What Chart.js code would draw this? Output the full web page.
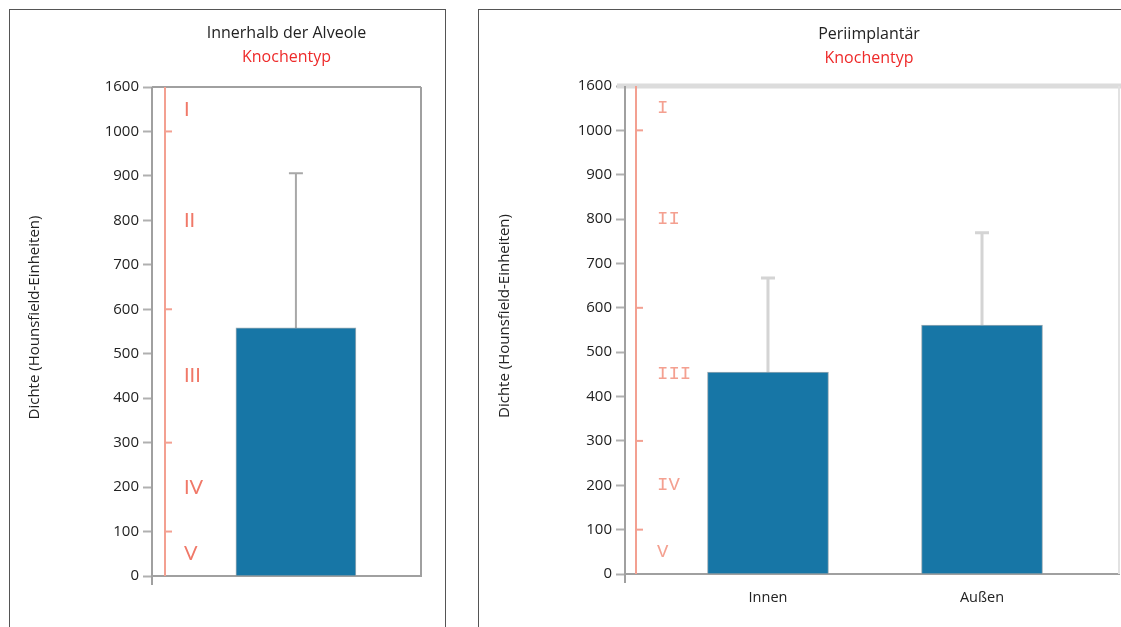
<!DOCTYPE html>
<html lang="de">
<head>
<meta charset="utf-8">
<title>Dichte nach Knochentyp</title>
<script src="https://cdn.jsdelivr.net/npm/chart.js@4"></script>
<style>
  html, body { margin: 0; padding: 0; background: #fff; overflow: hidden; }
  body { width: 1121px; height: 627px; position: relative; }
  .panel { position: absolute; border: 1px solid #555; box-sizing: border-box; background: #fff; }
  #panelA { left: 9px; top: 9px; width: 437px; height: 660px; }
  #panelB { left: 478px; top: 9px; width: 700px; height: 660px; }
  canvas { position: absolute; }
  #chartA { left: 10px; top: 10px; }
  #chartB { left: 479px; top: 10px; }
</style>
</head>
<body>
<div class="panel" id="panelA"></div>
<div class="panel" id="panelB"></div>
<canvas id="chartA" width="435" height="617"></canvas>
<canvas id="chartB" width="642" height="617"></canvas>
<script>
// Density axis: evenly spaced ticks, the last step jumps from 1000 to 1600
const yTickLabels = ['0', '100', '200', '300', '400', '500', '600', '700', '800', '900', '1000', '1600'];

// Bone type bands (Knochentyp) and their boundaries in HU
const boneTypes = ['I', 'II', 'III', 'IV', 'V'];
const boneBounds = [1600, 1000, 600, 300, 100, 0];

// Inside the alveole: mean density and upper end of the error bar
const alveoleCategories = [''];
const alveoleMean = [558];
const alveoleUpper = [906];

// Peri-implant: inner and outer region
const periCategories = ['Innen', 'Außen'];
const periMean = [455, 561];
const periUpper = [667, 769];

const FONT = '"Open Sans", "Noto Sans", sans-serif';
const tickValues = yTickLabels.map(Number);

// HU value -> position on the evenly spaced tick axis
function huToPos(v) {
  for (let i = 0; i < tickValues.length - 1; i++) {
    const a = tickValues[i], b = tickValues[i + 1];
    if (v <= b) return i + (v - a) / (b - a);
  }
  return tickValues.length - 1;
}

// Frame lines, bone-type ruler, error bars and headings
const decorPlugin = {
  id: 'decor',
  beforeDatasetsDraw(chart, args, o) {
    const { ctx, chartArea: ca } = chart;
    const y = chart.scales.y;
    ctx.save();
    // top line at 1600
    ctx.strokeStyle = o.topColor;
    ctx.lineWidth = o.topWidth;
    ctx.beginPath();
    ctx.moveTo(ca.left - o.tickLen, ca.top);
    ctx.lineTo(o.topToEdge ? chart.width : ca.right, ca.top);
    ctx.stroke();
    // right frame line
    ctx.strokeStyle = o.rightColor;
    ctx.lineWidth = 2;
    ctx.beginPath();
    ctx.moveTo(ca.right, ca.top);
    ctx.lineTo(ca.right, ca.bottom);
    ctx.stroke();
    // y axis line extends a little below zero
    ctx.strokeStyle = '#a0a0a0';
    ctx.lineWidth = 2;
    ctx.beginPath();
    ctx.moveTo(ca.left, ca.top);
    ctx.lineTo(ca.left, ca.bottom + 9);
    ctx.stroke();

    // bone-type ruler
    const rx = ca.left + o.rulerOffset;
    ctx.strokeStyle = '#f3a091';
    ctx.lineWidth = 2;
    ctx.beginPath();
    ctx.moveTo(rx, ca.top);
    ctx.lineTo(rx, ca.bottom);
    ctx.stroke();
    boneBounds.slice(1, -1).forEach(b => {
      const py = y.getPixelForValue(huToPos(b));
      ctx.beginPath();
      ctx.moveTo(rx, py);
      ctx.lineTo(rx + 7, py);
      ctx.stroke();
    });
    ctx.fillStyle = o.numeralColor;
    ctx.font = o.numeralFont;
    ctx.textAlign = 'left';
    ctx.textBaseline = 'middle';
    boneTypes.forEach((t, i) => {
      const mid = (huToPos(boneBounds[i]) + huToPos(boneBounds[i + 1])) / 2;
      ctx.fillText(t, ca.left + 32, y.getPixelForValue(mid) + o.numeralShift);
    });

    // headings
    const cx = (ca.left + ca.right) / 2 + o.titleShift;
    ctx.textAlign = 'center';
    ctx.font = '16px ' + FONT;
    ctx.fillStyle = '#222';
    ctx.fillText(o.title, cx, ca.top + o.titleY);
    ctx.fillStyle = '#ee2a2a';
    ctx.fillText('Knochentyp', cx, ca.top + o.titleY + 24);

    // vertical axis title
    ctx.save();
    ctx.translate(o.yTitleX, (ca.top + ca.bottom) / 2 - 14);
    ctx.rotate(-Math.PI / 2);
    ctx.fillStyle = '#222';
    ctx.font = '15px ' + FONT;
    ctx.fillText('Dichte (Hounsfield-Einheiten)', 0, 0);
    ctx.restore();

    // error bars (drawn before the bars, rising from their tops)
    const meta = chart.getDatasetMeta(0);
    const upper = o.upper;
    ctx.strokeStyle = o.errColor;
    ctx.lineWidth = o.errWidth;
    meta.data.forEach((bar, i) => {
      const top = y.getPixelForValue(huToPos(upper[i]));
      ctx.beginPath();
      ctx.moveTo(bar.x, bar.y);
      ctx.lineTo(bar.x, top);
      ctx.moveTo(bar.x - o.capHalf, top);
      ctx.lineTo(bar.x + o.capHalf, top);
      ctx.stroke();
    });
    ctx.restore();
  }
};

function makeChart(id, cfg) {
  const points = cfg.mean.map((m, i) => ({ x: i, y: huToPos(m) }));
  return new Chart(document.getElementById(id), {
    type: 'bar',
    data: {
      datasets: [{
        data: points,
        backgroundColor: '#1776a6',
        borderColor: 'rgba(110,135,150,0.7)',
        borderWidth: 1,
        barThickness: cfg.barWidth
      }]
    },
    options: {
      responsive: false,
      animation: false,
      layout: { padding: cfg.padding },
      plugins: {
        legend: { display: false },
        tooltip: { enabled: false },
        decor: cfg.decor
      },
      scales: {
        x: {
          type: 'linear',
          offset: false,
          min: cfg.xMin,
          max: cfg.xMax,
          afterBuildTicks: s => { s.ticks = cfg.categories.map((c, i) => ({ value: i })); },
          afterFit: s => { s.height = 44; },
          grid: { display: false, offset: false },
          border: { display: true, color: '#a0a0a0', width: 2 },
          ticks: {
            display: cfg.showX,
            padding: 7,
            color: '#222',
            font: { family: FONT, size: 14.5 },
            callback: v => cfg.categories[v]
          }
        },
        y: {
          min: 0,
          max: yTickLabels.length - 1,
          afterFit: s => { s.width = cfg.yWidth; },
          afterBuildTicks: s => { s.ticks = yTickLabels.map((t, i) => ({ value: i })); },
          border: { display: false },
          grid: {
            drawOnChartArea: false,
            tickLength: 9,
            tickColor: '#b0b0b0',
            tickWidth: 2
          },
          ticks: {
            padding: 4,
            color: '#222',
            font: { family: FONT, size: 15 },
            callback: v => yTickLabels[v]
          }
        }
      }
    },
    plugins: [decorPlugin]
  });
}

makeChart('chartA', {
  mean: alveoleMean,
  categories: alveoleCategories,
  showX: false,
  barWidth: 120,
  xMin: -0.535,
  xMax: 0.465,
  yWidth: 142,
  padding: { top: 77, right: 24, bottom: 7, left: 0 },
  decor: {
    title: 'Innerhalb der Alveole',
    titleY: -54, titleShift: 0, yTitleX: 25,
    upper: alveoleUpper,
    topColor: '#a0a0a0', topWidth: 2, topToEdge: false,
    rightColor: '#a0a0a0', tickLen: 0,
    rulerOffset: 13,
    numeralColor: '#f07868', numeralFont: '20px Lato, sans-serif', numeralShift: 0,
    errColor: '#a8a8a8', errWidth: 2, capHalf: 7
  }
});

makeChart('chartB', {
  mean: periMean,
  categories: periCategories,
  showX: true,
  barWidth: 121,
  xMin: -0.668,
  xMax: 1.640,
  yWidth: 146,
  padding: { top: 76, right: 2, bottom: 9, left: 0 },
  decor: {
    title: 'Periimplantär',
    titleY: -52, titleShift: -3, yTitleX: 26,
    upper: periUpper,
    topColor: '#dcdcdc', topWidth: 5, topToEdge: true,
    rightColor: '#e2e2e2', tickLen: 8,
    rulerOffset: 11,
    numeralColor: '#f4a090', numeralFont: '19px "Liberation Mono", monospace', numeralShift: 0,
    errColor: '#d4d4d4', errWidth: 3, capHalf: 7
  }
});
</script>
</body>
</html>
